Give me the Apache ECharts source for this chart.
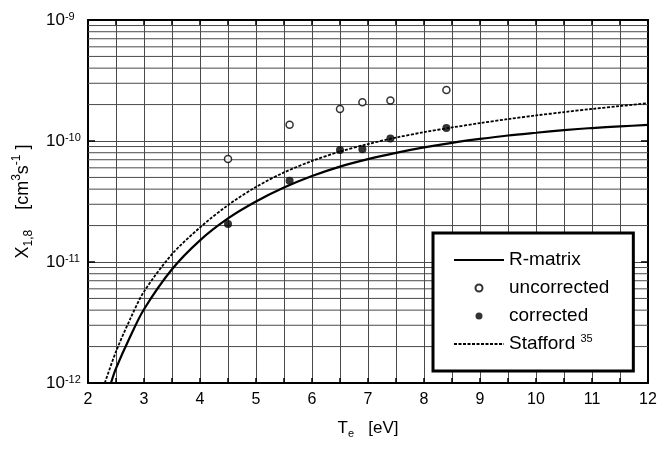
<!DOCTYPE html>
<html>
<head>
<meta charset="utf-8">
<script src="https://cdn.jsdelivr.net/npm/echarts@6/dist/echarts.min.js"></script>
<style>
  html, body { margin: 0; padding: 0; background: #fff; }
  #chart { width: 671px; height: 449px; }
</style>
</head>
<body>
<div id="chart"></div>
<script>
// Electron temperature grid (eV) and rate coefficients (cm^3 s^-1)
const rMatrixT = [2.41, 2.5, 2.75, 3, 3.5, 4, 4.5, 5, 5.5, 6, 6.5, 7, 7.5, 8, 8.5, 9, 9.5, 10, 10.5, 11, 11.5, 12];
const rMatrixX = [1.0e-12, 1.32e-12, 2.4e-12, 4.07e-12, 8.71e-12, 1.51e-11, 2.29e-11, 3.16e-11, 4.12e-11, 5.13e-11,
                  6.14e-11, 7.08e-11, 7.98e-11, 8.85e-11, 9.66e-11, 1.04e-10, 1.11e-10, 1.17e-10, 1.23e-10, 1.28e-10, 1.32e-10, 1.36e-10];

const staffordT = [2.3, 2.5, 2.75, 3, 3.5, 4, 4.5, 5, 5.5, 6, 6.5, 7, 7.5, 8, 8.5, 9, 9.5, 10, 10.5, 11, 11.5, 12];
const staffordX = [1.0e-12, 1.82e-12, 3.35e-12, 5.69e-12, 1.16e-11, 1.93e-11, 2.95e-11, 4.17e-11, 5.5e-11, 6.84e-11,
                   8.18e-11, 9.44e-11, 1.067e-10, 1.183e-10, 1.294e-10, 1.406e-10, 1.517e-10, 1.626e-10, 1.734e-10, 1.841e-10, 1.945e-10, 2.051e-10];

const measuredT   = [4.5, 5.6, 6.5, 6.9, 7.4, 8.4];
const uncorrected = [7.1e-11, 1.36e-10, 1.84e-10, 2.09e-10, 2.16e-10, 2.64e-10];
const corrected   = [2.06e-11, 4.7e-11, 8.43e-11, 8.54e-11, 1.05e-10, 1.28e-10];

// Minor decade gridlines (2..9 x 10^n), drawn across the full T range
const minorGridMantissas = [2, 3, 4, 5, 6, 7, 8, 9];
const minorGridDecades = [-12, -11, -10];
const T_MIN = 2, T_MAX = 12;

const minorGridData = [];
minorGridDecades.forEach(function (e) {
  minorGridMantissas.forEach(function (m) {
    const v = m * Math.pow(10, e);
    minorGridData.push([T_MIN, v], [T_MAX, v], [T_MAX, '-']);
  });
});

const pairs = (xs, ys) => xs.map((x, i) => [x, ys[i]]);

const FONT = 'Liberation Sans, Arial, Helvetica, sans-serif';
const GRID_COLOR = '#4a4a4a';

const chart = echarts.init(document.getElementById('chart'), null, { renderer: 'canvas' });

chart.setOption({
  animation: false,
  backgroundColor: '#fff',
  textStyle: { fontFamily: FONT, color: '#000' },
  grid: { left: 88, right: 23, top: 20, bottom: 66, containLabel: false },
  legend: {
    orient: 'vertical',
    left: 433,
    top: 233,
    padding: [16, 24, 16, 20],
    itemWidth: 50,
    itemHeight: 7,
    itemGap: 6,
    backgroundColor: '#fff',
    borderColor: '#000',
    borderWidth: 3,
    borderRadius: 0,
    data: [
      { name: 'R-matrix', itemStyle: { opacity: 0 } },
      { name: 'uncorrected' },
      { name: 'corrected' },
      { name: 'Stafford', itemStyle: { opacity: 0 } }
    ],
    formatter: function (name) {
      return name === 'Stafford' ? 'Stafford {s|35}' : name;
    },
    textStyle: {
      fontFamily: FONT, fontSize: 19, color: '#000', lineHeight: 22,
      rich: { s: { fontFamily: FONT, fontSize: 11, color: '#000', verticalAlign: 'top', lineHeight: 22 } }
    }
  },
  xAxis: [{
    type: 'value', min: T_MIN, max: T_MAX, interval: 1,
    name: '{b|T}{sub|e}{b|   [eV]}',
    nameLocation: 'middle', nameGap: 34,
    nameTextStyle: {
      rich: {
        b: { fontFamily: FONT, fontSize: 17, color: '#000', lineHeight: 22 },
        sub: { fontFamily: FONT, fontSize: 11, color: '#000', verticalAlign: 'bottom', lineHeight: 22 }
      }
    },
    axisLine: { show: true, onZero: false, lineStyle: { color: '#000', width: 2 } },
    axisTick: { show: true, inside: true, length: 5, lineStyle: { color: '#000', width: 1.5 } },
    minorTick: { show: true, splitNumber: 2, length: 5, lineStyle: { color: '#000', width: 1.5 } },
    axisLabel: { fontFamily: FONT, fontSize: 16, color: '#000', margin: 9 },
    splitLine: { show: true, lineStyle: { color: GRID_COLOR, width: 1 } },
    minorSplitLine: { show: true, lineStyle: { color: GRID_COLOR, width: 1 } }
  }, {
    type: 'value', min: T_MIN, max: T_MAX, interval: 1, position: 'top',
    axisLine: { show: true, onZero: false, lineStyle: { color: '#000', width: 2 } },
    axisTick: { show: true, inside: true, length: 5, lineStyle: { color: '#000', width: 1.5 } },
    minorTick: { show: true, splitNumber: 2, length: 5, lineStyle: { color: '#000', width: 1.5 } },
    axisLabel: { show: false },
    splitLine: { show: false }
  }],
  yAxis: [{
    type: 'log', logBase: 10, min: 1e-12, max: 1e-9,
    name: '{b|X}{sub|1,8}{b|    [cm}{sup|3}{b|s}{sup|-1}{b| ]}',
    nameLocation: 'middle', nameGap: 50,
    nameTextStyle: {
      rich: {
        b: { fontFamily: FONT, fontSize: 18, color: '#000', lineHeight: 24 },
        sub: { fontFamily: FONT, fontSize: 12, color: '#000', verticalAlign: 'bottom', lineHeight: 24 },
        sup: { fontFamily: FONT, fontSize: 12, color: '#000', verticalAlign: 'top', lineHeight: 24 }
      }
    },
    axisLine: { show: true, onZero: false, lineStyle: { color: '#000', width: 2 } },
    axisTick: { show: true, inside: true, length: 7, lineStyle: { color: '#000', width: 1.5 } },
    axisLabel: {
      margin: 42, align: 'left',
      formatter: function (v) {
        return '{b|10}{s|' + Math.round(Math.log10(v)) + '}';
      },
      rich: {
        b: { fontFamily: FONT, fontSize: 17, color: '#000', lineHeight: 18 },
        s: { fontFamily: FONT, fontSize: 11, color: '#000', verticalAlign: 'top', lineHeight: 18 }
      }
    },
    splitLine: { show: true, lineStyle: { color: GRID_COLOR, width: 1 } }
  }, {
    type: 'log', logBase: 10, min: 1e-12, max: 1e-9, position: 'right',
    axisLine: { show: true, onZero: false, lineStyle: { color: '#000', width: 2 } },
    axisTick: { show: true, inside: true, length: 7, lineStyle: { color: '#000', width: 1.5 } },
    axisLabel: { show: false },
    splitLine: { show: false }
  }],
  series: [{
    name: 'minor-grid',
    type: 'line',
    data: minorGridData,
    connectNulls: false,
    symbol: 'none',
    silent: true,
    lineStyle: { color: GRID_COLOR, width: 1 },
    z: 1
  }, {
    name: 'R-matrix',
    type: 'line',
    data: pairs(rMatrixT, rMatrixX),
    smooth: 0.3,
    symbol: 'none',
    clip: true,
    lineStyle: { color: '#000', width: 2.2 },
    itemStyle: { color: '#000' },
    z: 5
  }, {
    name: 'Stafford',
    type: 'line',
    data: pairs(staffordT, staffordX),
    smooth: 0.3,
    symbol: 'none',
    clip: true,
    lineStyle: { color: '#000', width: 1.8, type: [3, 1.5] },
    itemStyle: { color: '#000' },
    z: 5
  }, {
    name: 'uncorrected',
    type: 'scatter',
    data: pairs(measuredT, uncorrected),
    symbol: 'circle',
    symbolSize: 7,
    itemStyle: { color: '#fff', borderColor: '#000', borderWidth: 1.5 },
    z: 6
  }, {
    name: 'corrected',
    type: 'scatter',
    data: pairs(measuredT, corrected),
    symbol: 'circle',
    symbolSize: 8,
    itemStyle: { color: '#000' },
    z: 6
  }]
});
</script>
</body>
</html>
